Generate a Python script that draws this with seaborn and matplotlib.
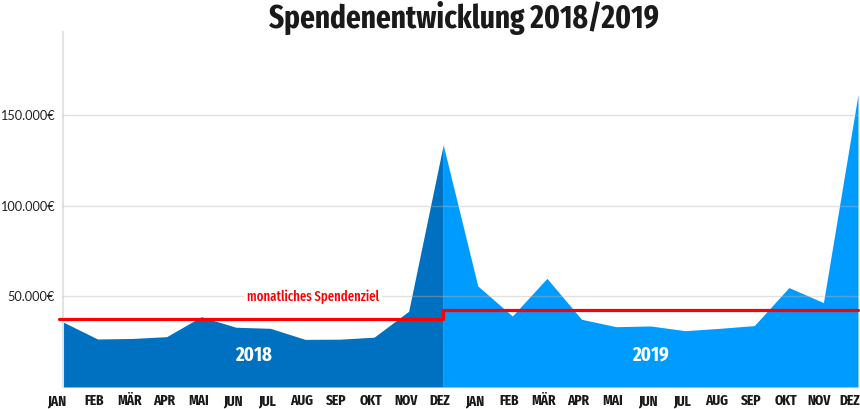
import matplotlib
matplotlib.use("Agg")
import matplotlib.pyplot as plt
import matplotlib.transforms as mtransforms
from matplotlib import font_manager
from matplotlib.font_manager import FontProperties
import seaborn as sns
import pandas as pd

# ---------------- data ----------------
months = ["JAN", "FEB", "MÄR", "APR", "MAI", "JUN", "JUL", "AUG", "SEP", "OKT", "NOV", "DEZ"]
spenden_2018 = [35900, 26500, 26800, 27800, 38800, 33000, 32400, 26300, 26400, 27500, 41800, 133700]
spenden_2019 = [55800, 39200, 60000, 37400, 33300, 33700, 31100, 32400, 33900, 54900, 46600, 161500]
ziel_2018 = 37500
ziel_2019 = 42500
y_ticks = [50000, 100000, 150000]
y_tick_labels = ["50.000€", "100.000€", "150.000€"]
title = "Spendenentwicklung 2018/2019"
ziel_label = "monatliches Spendenziel"

# ---------------- fonts ----------------
sns.set_theme(style="white")
plt.rcParams["font.family"] = ["DejaVu Sans"]


def find_condensed(bold, prefer_extra):
    best = None
    best_score = -99
    for f in font_manager.fontManager.ttflist:
        n = f.name.lower()
        p = f.fname.lower().replace("-", "").replace("_", "")
        is_cond = ("condensed" in n or "narrow" in n or "condensed" in p or "narrow" in p
                   or f.stretch in ("condensed", "semi-condensed", "extra-condensed"))
        if not is_cond:
            continue
        if "italic" in p or "oblique" in p or f.style != "normal":
            continue
        w = f.weight if isinstance(f.weight, int) else 400
        score = 10
        if bold:
            score += 6 if 600 <= w <= 750 else (2 if w > 750 else -5)
        else:
            score += 6 if 380 <= w <= 520 else -3
        extra = "extra" in p or "ultra" in p or "extra" in n
        semi = "semi" in p or "semi" in n
        if prefer_extra:
            score += 3 if extra else (0 if not semi else -1)
        else:
            score += 2 if (not extra and not semi) else (1 if semi else -1)
        if "sans" in n and "mono" not in n:
            score += 1
        if "mono" in n or ("serif" in n and "sans" not in n):
            score -= 4
        if score > best_score:
            best_score = score
            best = f.fname
    return best


cb = find_condensed(True, True)
cr = find_condensed(False, True)
COND_BOLD = FontProperties(fname=cb) if cb else FontProperties(family="DejaVu Sans", weight="bold")
COND_REG = FontProperties(fname=cr) if cr else FontProperties(family="DejaVu Sans")
names = {f.name for f in font_manager.fontManager.ttflist}
reg_family = [f for f in ["Lato", "Open Sans", "DejaVu Sans"] if f in names] or ["DejaVu Sans"]
REG = FontProperties(family=reg_family)


def fp(base, size):
    p = base.copy()
    p.set_size(size)
    return p


dark = "#0070c0"
light = "#009bff"
red = "#ff0000"

df = pd.DataFrame({
    "idx": list(range(24)),
    "month": months + months,
    "value": spenden_2018 + spenden_2019,
})

fig = plt.figure(figsize=(8.6, 4.09), dpi=100)
ax = fig.add_axes([63 / 860, (409 - 387) / 409, (858 - 63) / 860, (387 - 32) / 409])

d18 = df.iloc[:12]
ax.fill_between(d18["idx"], 0, d18["value"], color=dark, lw=0, zorder=2)
vals19 = [spenden_2018[-1]] + spenden_2019
ax.fill_between(list(range(11, 24)), 0, vals19[:13], color=light, lw=0, zorder=2)

goal = pd.DataFrame({"x": [-0.13, 11, 23], "y": [ziel_2018, ziel_2019, ziel_2019]})
sns.lineplot(data=goal, x="x", y="y", drawstyle="steps-post", color=red, lw=2.3,
             ax=ax, zorder=5, clip_on=False)

for t in y_ticks:
    ax.axhline(t, color="#b5b5b5", lw=1.0, alpha=0.4, zorder=3)

ax.set_xlim(0, 23)
ax.set_ylim(0, 196000)
ax.set_xlabel("")
ax.set_ylabel("")

for s in ["top", "right", "bottom"]:
    ax.spines[s].set_visible(False)
ax.spines["left"].set_color("#e3e3e3")
ax.spines["left"].set_linewidth(1.5)

ax.set_yticks(y_ticks)
ax.set_yticklabels(y_tick_labels, fontproperties=fp(REG, 9.2), color="#222222")
ax.tick_params(axis="y", length=0, pad=6)

ax.set_xticks(range(24))
ax.set_xticklabels(df["month"], fontproperties=fp(COND_BOLD, 10.5), color="#1a1a1a")
ax.tick_params(axis="x", length=0, pad=6)
for i, lab in enumerate(ax.get_xticklabels()):
    dx = -3
    if i == 0:
        dx = -6
    if i == 22:
        dx = -4
    if i == 23:
        lab.set_ha("right")
        dx = 2
    lab.set_va("baseline")
    lab.set_transform(lab.get_transform()
                      + mtransforms.ScaledTranslation(dx / 100, -10 / 100, fig.dpi_scale_trans))

ziel_txt = ax.text(7.23, 50000, ziel_label, color=red, fontproperties=fp(COND_REG, 10),
                   ha="center", va="center", zorder=6,
                   bbox=dict(facecolor="white", edgecolor="none", pad=2))
year_txts = []
for xpos, lab in [(5.52, "2018"), (17.0, "2019")]:
    year_txts.append(ax.text(xpos, 17700, lab, color="white", fontproperties=fp(COND_BOLD, 14),
                             ha="center", va="center", zorder=6))

title_txt = fig.text(0.54, 0.957, title, color="#1a1a1a", fontproperties=fp(COND_BOLD, 20),
                     ha="center", va="center")

# ---- fit text widths to the reference's proportions ----
fig.canvas.draw()
renderer = fig.canvas.get_renderer()


def fit(txt, target_w, max_size=None):
    w = txt.get_window_extent(renderer).width
    s = txt.get_fontsize() * target_w / w
    if max_size:
        s = min(s, max_size)
    return s


title_txt.set_fontsize(fit(title_txt, 392, 26))
ziel_txt.set_fontsize(fit(ziel_txt, 132, 13))
ys = fit(year_txts[0], 37, 17)
for t in year_txts:
    t.set_fontsize(ys)

fig.savefig("out.png", dpi=100)
